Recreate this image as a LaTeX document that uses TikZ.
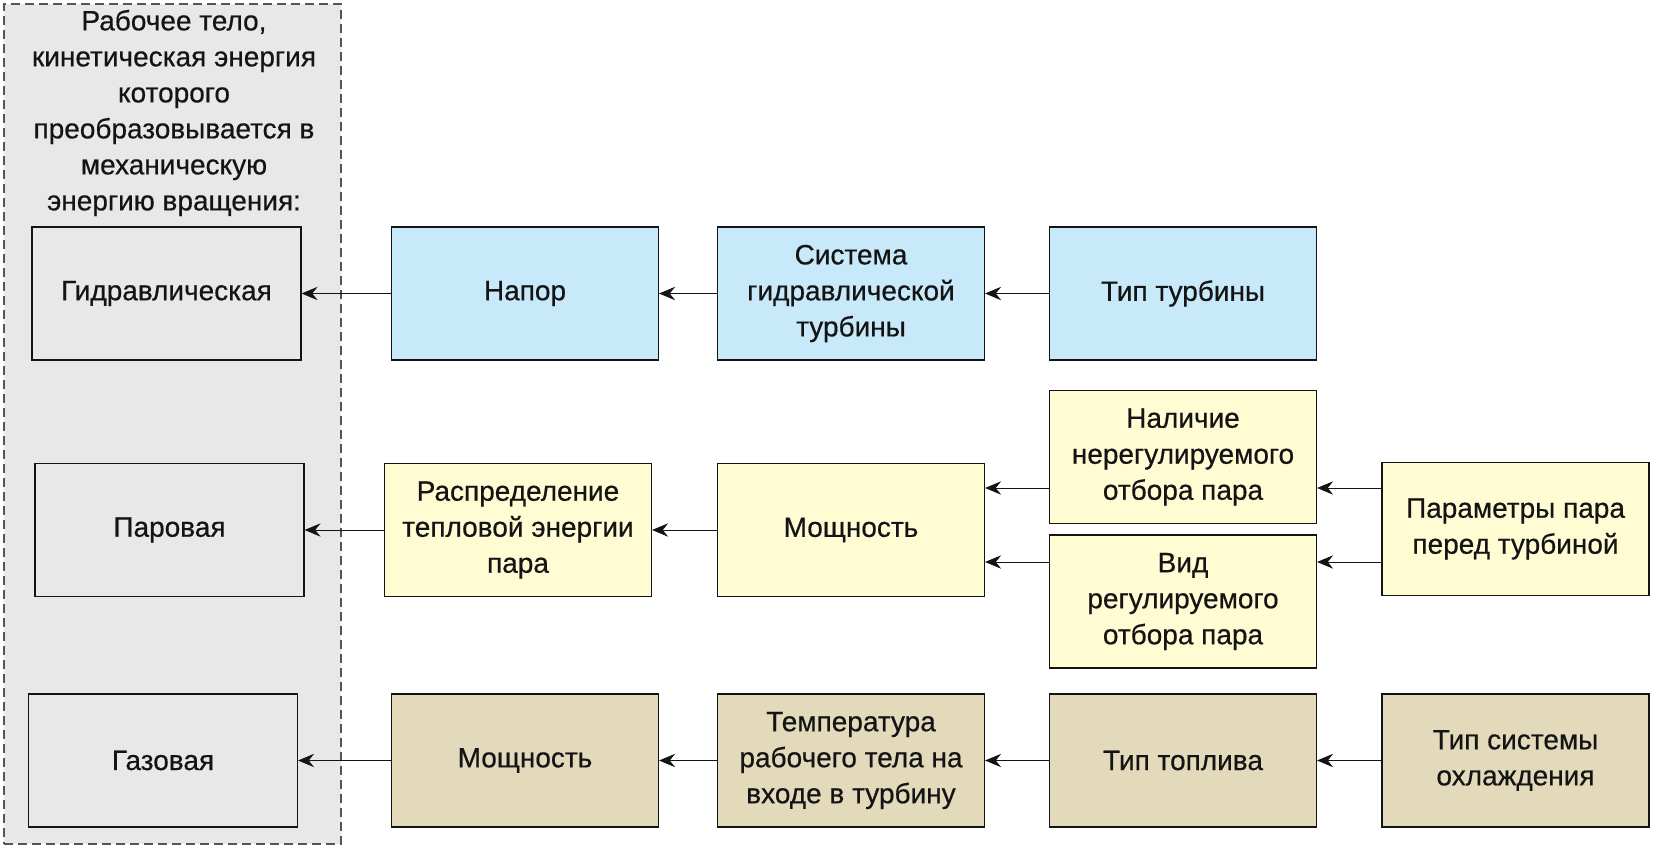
\documentclass[tikz,border=0pt]{standalone}
\usepackage{fontspec}
\setmainfont[FakeBold=0.5]{Liberation Sans}
\usetikzlibrary{arrows.meta}
\definecolor{bluef}{HTML}{C8E9FA}
\definecolor{yelf}{HTML}{FFFBD2}
\definecolor{tanf}{HTML}{E2DABB}
\definecolor{panelf}{HTML}{E8E8E8}
\definecolor{ink}{HTML}{141414}
\definecolor{dashc}{HTML}{555555}
\begin{document}
\begin{tikzpicture}[x=0.75pt,y=-0.75pt,
  txt/.style={font=\fontsize{21}{27}\selectfont, text=ink, align=center},
  box/.style={txt, draw=ink, line width=1.1pt, minimum width=200pt, minimum height=99.5pt, inner sep=0pt},
  leftbox/.style={box, minimum width=201.5pt},
  bluebox/.style={box, fill=bluef},
  yelbox/.style={box, fill=yelf},
  tanbox/.style={box, fill=tanf},
  panelst/.style={draw=dashc, line width=0.9pt, dash pattern=on 7pt off 3.5pt, fill=panelf, inner sep=0pt},
  arr/.style={draw=ink, line width=0.7pt, -{Stealth[length=12pt,width=10pt,inset=4pt]}}
]
\useasboundingbox (0,0) rectangle (1654,849);
\fill[white] (0,0) rectangle (1654,849);
\node[panelst, minimum width=252.75pt, minimum height=630pt] (panel) at (172.5,424) {};
\node[txt] (title) at (174,113) {Рабочее тело,\\кинетическая энергия\\которого\\преобразовывается в\\механическую\\энергию вращения:};

% left column
\node[leftbox] (gid) at (166.5,293.5) {Гидравлическая};
\node[leftbox] (par) at (169.5,530) {Паровая};
\node[leftbox] (gaz) at (163,760.5) {Газовая};

% row 1
\node[bluebox] (nap) at (525,293.5) {Напор};
\node[bluebox] (sys) at (851,293.5) {Система\\гидравлической\\турбины};
\node[bluebox] (tip) at (1183,293.5) {Тип турбины};

% row 2
\node[yelbox] (ras) at (518,530) {Распределение\\тепловой энергии\\пара};
\node[yelbox] (mos) at (851,530) {Мощность};
\node[yelbox] (nal) at (1183,457) {Наличие\\нерегулируемого\\отбора пара};
\node[yelbox] (vid) at (1183,601.5) {Вид\\регулируемого\\отбора пара};
\node[yelbox] (prm) at (1515.5,529) {Параметры пара\\перед турбиной};

% row 3
\node[tanbox] (mos3) at (525,760.5) {Мощность};
\node[tanbox] (tem) at (851,760.5) {Температура\\рабочего тела на\\входе в турбину};
\node[tanbox] (top) at (1183,760.5) {Тип топлива};
\node[tanbox] (sks) at (1515.5,760.5) {Тип системы\\охлаждения};

\coordinate (a1) at (0,488);
\coordinate (a2) at (0,562);

% connectors
\draw[arr] (nap.west) -- (gid.east |- nap.west);
\draw[arr] (sys.west) -- (nap.east |- sys.west);
\draw[arr] (tip.west) -- (sys.east |- tip.west);

\draw[arr] (ras.west) -- (par.east |- ras.west);
\draw[arr] (mos.west) -- (ras.east |- mos.west);
\draw[arr] (nal.west |- a1) -- (mos.east |- a1);
\draw[arr] (vid.west |- a2) -- (mos.east |- a2);
\draw[arr] (prm.west |- a1) -- (nal.east |- a1);
\draw[arr] (prm.west |- a2) -- (vid.east |- a2);

\draw[arr] (mos3.west) -- (gaz.east |- mos3.west);
\draw[arr] (tem.west) -- (mos3.east |- tem.west);
\draw[arr] (top.west) -- (tem.east |- top.west);
\draw[arr] (sks.west) -- (top.east |- sks.west);
\end{tikzpicture}
\end{document}
